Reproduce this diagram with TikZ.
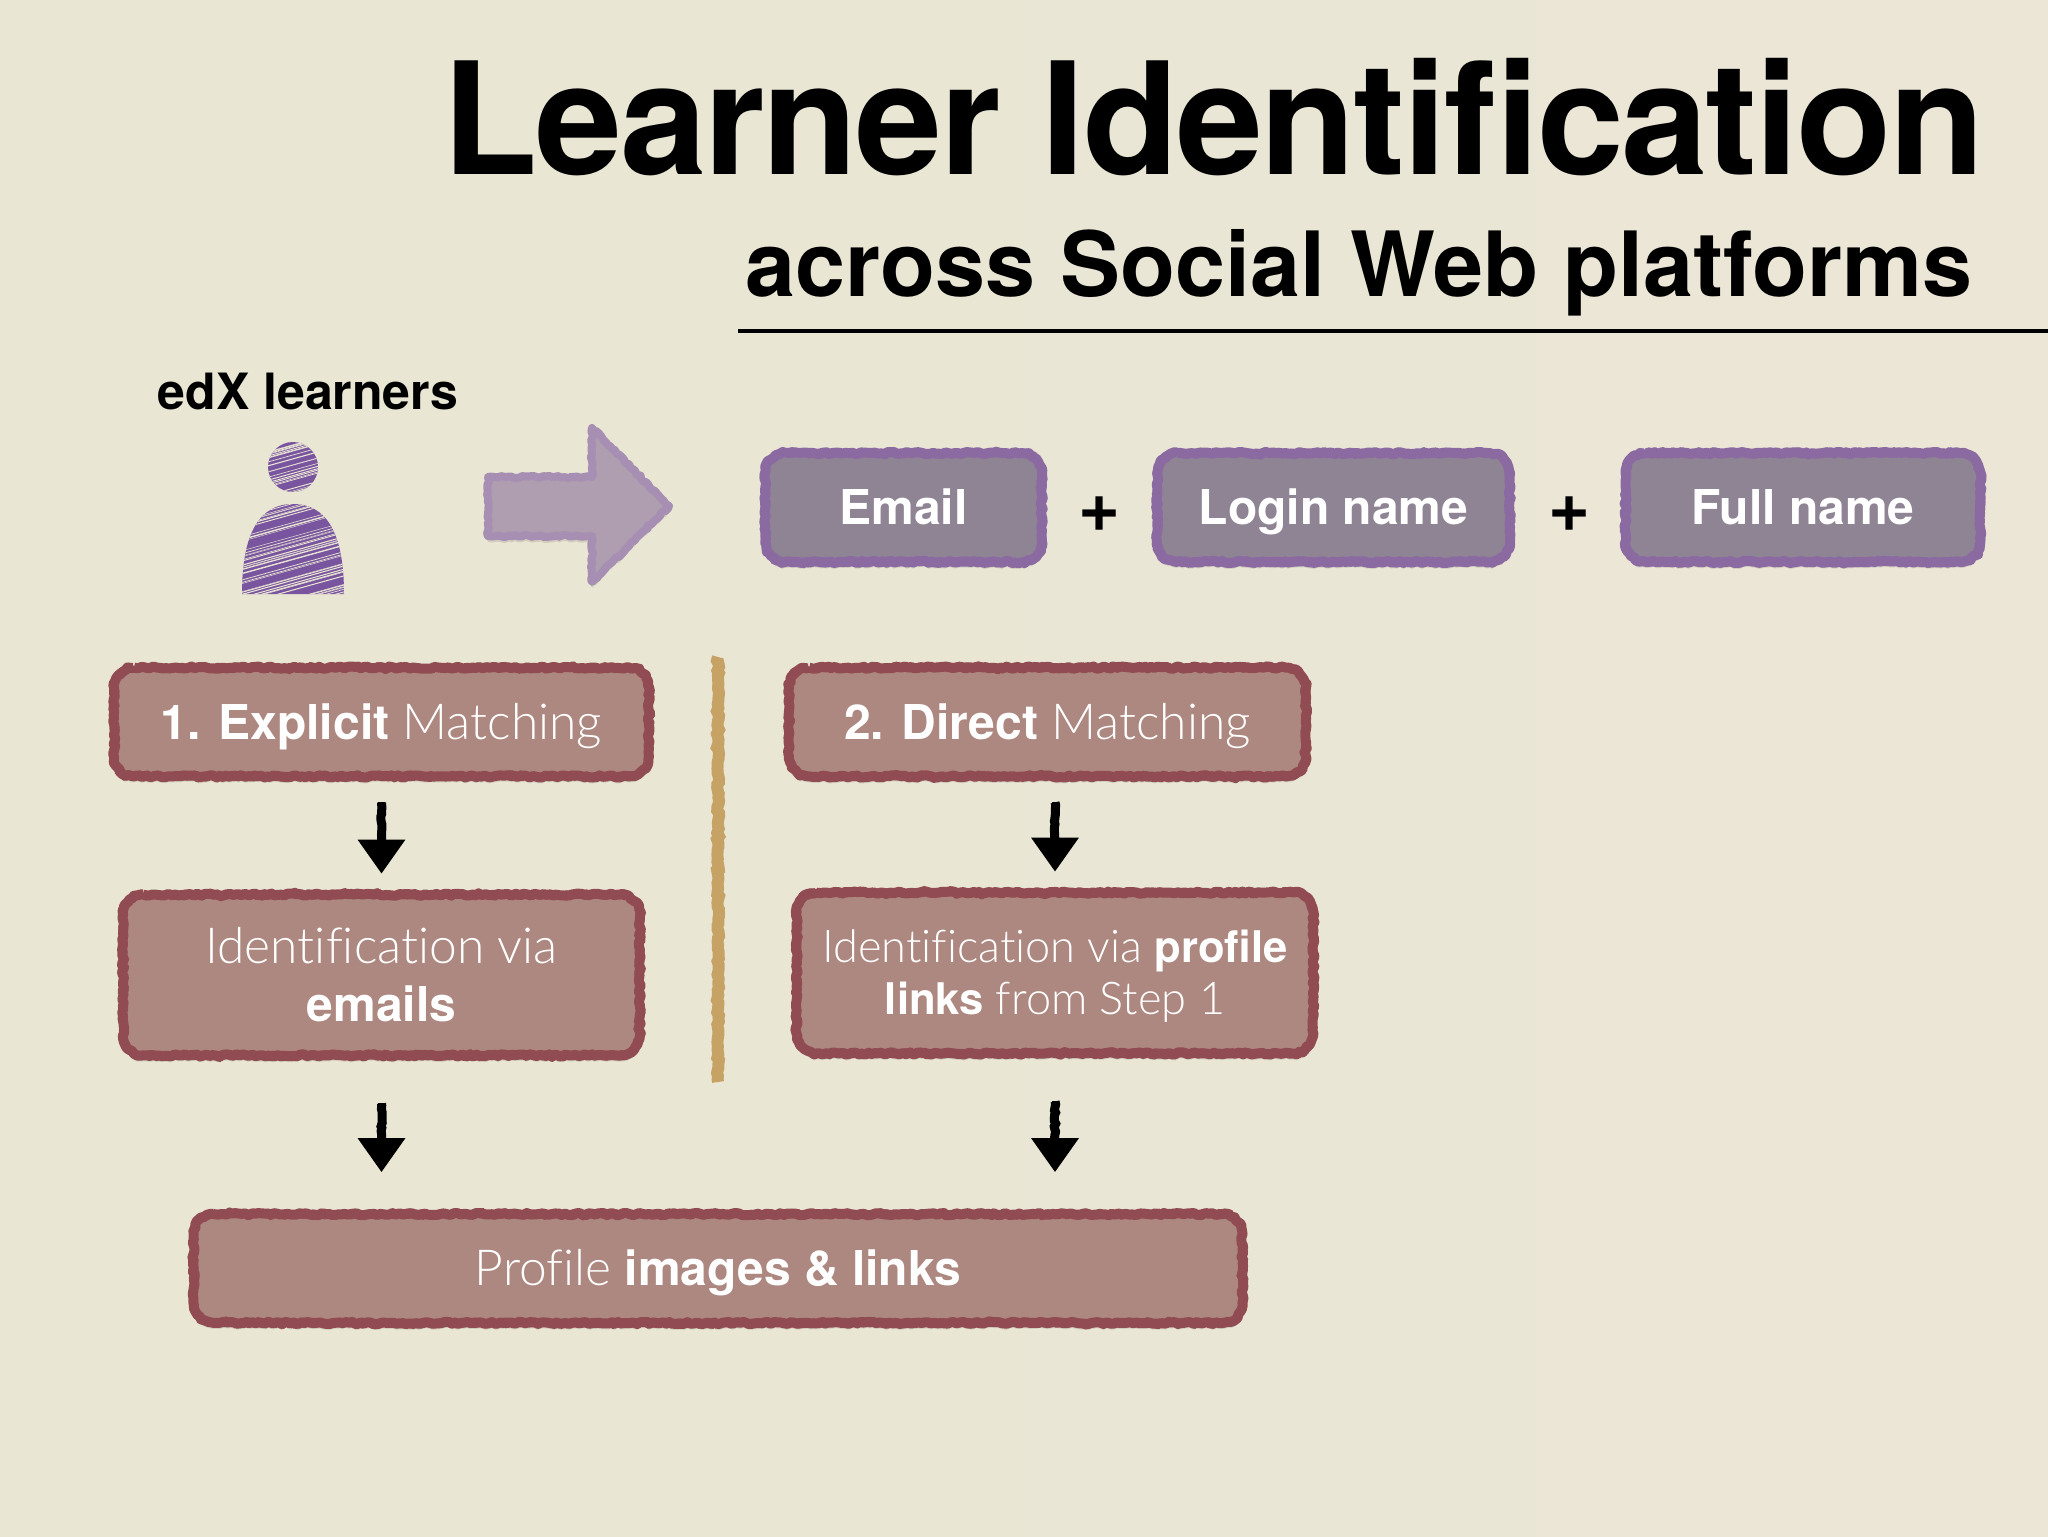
\documentclass[tikz,border=0pt]{standalone}
\usepackage{fontspec}
\setmainfont{TeX Gyre Heros}
\newfontfamily\lightfont[Scale=1.035,Ligatures=NoCommon]{Lato Light}
\usetikzlibrary{arrows.meta,backgrounds,calc,decorations.pathmorphing,shadows}
\definecolor{paper}{HTML}{E9E6D3}
\definecolor{paperb}{HTML}{EBE6D6}
\definecolor{boxred}{HTML}{AD8880}
\definecolor{edgered}{HTML}{914B52}
\definecolor{boxpurple}{HTML}{8F8494}
\definecolor{edgepurple}{HTML}{8B6AA2}
\definecolor{arrowpurple}{HTML}{AF9EB0}
\definecolor{arrowedge}{HTML}{A68FB2}
\definecolor{personpurple}{HTML}{7A559F}
\definecolor{dividertan}{HTML}{C7A265}
\tikzset{
  rough/.style={decorate,decoration={random steps,segment length=1.6pt,amplitude=0.55pt}},
  softshadow/.style={
    general shadow={shadow xshift=0pt,shadow yshift=-1.5pt,fill=black,opacity=0.12},
    general shadow={shadow xshift=0pt,shadow yshift=-3pt,fill=black,opacity=0.10}},
  infobox/.style={rectangle,text=white,align=center,inner sep=0pt,font=\fontsize{24}{29}\selectfont},
  redbox/.style={infobox},
  purplebox/.style={infobox},
  oneline/.style={text height=20pt,text depth=3pt},
  chalkframe/.style={line join=round,rough,softshadow},
  chalkedge/.style={draw=#1,line width=5pt,postaction={decorate,draw=#1,line width=4pt,
    decoration={random steps,segment length=1.2pt,amplitude=1pt}}},
  redframe/.style={chalkframe,fill=boxred,draw=edgered,chalkedge=edgered},
  purpleframe/.style={chalkframe,fill=boxpurple,draw=edgepurple,chalkedge=edgepurple},
  downarrow/.style={line width=3.5pt,-{Triangle[width=23pt,length=17pt]},
    preaction={draw,-,line width=4.5pt,decorate,
      decoration={random steps,segment length=1.4pt,amplitude=0.4pt,post length=16pt,post=moveto}}},
  streak/.style={paper,line width=0.5pt},
}
% chalk outline behind a node (y runs downwards in the picture)
\newcommand{\chalkframe}[2]{
  \path [#2] ($(#1.north west)+(20,0)$) -- ($(#1.north east)+(-20,0)$) arc (270:360:20)
    -- ($(#1.south east)+(0,-20)$) arc (0:90:20)
    -- ($(#1.south west)+(20,0)$) arc (90:180:20)
    -- ($(#1.north west)+(0,20)$) arc (180:270:20) -- cycle;
}
\begin{document}
\begin{tikzpicture}[x=0.5pt,y=0.5pt,yscale=-1,xscale=1]
  \useasboundingbox (0,0) rectangle (2048,1536);
  \pgfmathsetseed{7}

  % Title
  \node (title) at (1985,174) [anchor=base east,inner sep=0pt,font=\fontsize{78}{90}\selectfont\bfseries\addfontfeatures{LetterSpace=-1.5}] {Learner Identification};
  \node (subtitle) at (1973,296) [anchor=base east,inner sep=0pt,font=\fontsize{45}{54}\selectfont\bfseries] {across Social Web platforms};
  %Straight Lines
  \coordinate (ruleL) at (738,331);
  \coordinate (ruleR) at (2048,331);
  \draw [line width=1.8pt] (ruleL) -- (ruleR);

  % Text Node
  \node (learners) at (308,409) [anchor=base,inner sep=0pt,font=\fontsize{25}{30}\selectfont\bfseries] {edX learners};

  % Top row
  \node (email) at (903.5,507.5) [purplebox,oneline,minimum width=138pt,minimum height=54pt] {\bfseries Email};
  \node (login) at (1333.5,507.5) [purplebox,oneline,minimum width=176pt,minimum height=54pt] {\bfseries Login name};
  \node (fullname) at (1803,507.5) [purplebox,oneline,minimum width=177pt,minimum height=54pt] {\bfseries Full name};
  \node (plusa) at (1100,514) [inner sep=0pt,font=\fontsize{36}{40}\selectfont\bfseries] {+};
  \node (plusb) at (1569,514) [inner sep=0pt,font=\fontsize{36}{40}\selectfont\bfseries] {+};

  % Left column
  \node (explicit) at (381.5,722) [redbox,oneline,minimum width=267pt,minimum height=54pt] {\bfseries 1. Explicit \lightfont\mdseries Matching};
  \node (viaemail) at (381.5,975) [redbox,minimum width=258pt,minimum height=80pt] {{\lightfont Identification via}\\\bfseries emails};
  % Right column
  \node (direct) at (1047.5,722) [redbox,oneline,minimum width=258pt,minimum height=54pt] {\bfseries 2. Direct \lightfont\mdseries Matching};
  \node (vialink) at (1055,973) [redbox,minimum width=258pt,minimum height=80pt,font=\fontsize{21.8}{26}\selectfont] {\rule{0pt}{19pt}{\lightfont Identification via }\textbf{profile}\\\textbf{links} {\lightfont from Step 1}};
  % Bottom
  \node (images) at (718,1268.5) [redbox,oneline,minimum width=524pt,minimum height=54pt] {{\lightfont Profile }\textbf{images \& links}};

  \begin{scope}[on background layer]
    %Background
    \shade[left color=paper,right color=paperb] (0,0) rectangle (2048,1536);

    %Shape: person
    \begin{scope}
      \clip (293,467) ellipse (25 and 25)
        (242,594) .. controls (242,532) and (260,504) .. (293,504) .. controls (326,504) and (344,532) .. (344,594) -- cycle;
      \fill [personpurple] (235,435) rectangle (350,600);
      \foreach \i in {1,...,80} {
        \pgfmathsetmacro{\yy}{440+rnd*200}
        \pgfmathsetmacro{\wd}{0.15+rnd*0.4}
        \draw [streak,line width=\wd pt] (235,\yy) -- (350,\yy-32);
      }
    \end{scope}

    %Shape: big arrow
    \draw [fill=arrowpurple,draw=arrowedge,line width=4pt,line join=round,rough,softshadow]
      (488,477) -- (592,477) -- (592,428) -- (669,506) -- (592,582) -- (592,536) -- (488,536) -- cycle;

    %Shape: boxes
    \foreach \boxname in {email,login,fullname} {\chalkframe{\boxname}{purpleframe}}
    \foreach \boxname in {explicit,viaemail,direct,vialink,images} {\chalkframe{\boxname}{redframe}}
  \end{scope}

  %Straight Lines
  \coordinate (divtop) at (718,657);
  \coordinate (divbot) at (718,1082);
  \draw [dividertan,line width=6pt,rough] (divtop) -- (divbot);

  % Arrows
  \draw [downarrow] ($(explicit.south)+(0,26)$) -- ($(viaemail.north)+(0,-21)$);
  \draw [downarrow] ($(viaemail.south)+(0,48)$) -- ($(images.north -| viaemail.south)+(0,-42)$);
  \draw [downarrow] ($(direct.south -| vialink.north)+(0,26)$) -- ($(vialink.north)+(0,-21)$);
  \draw [downarrow] ($(vialink.south)+(0,48)$) -- ($(images.north -| vialink.south)+(0,-42)$);
\end{tikzpicture}
\end{document}
